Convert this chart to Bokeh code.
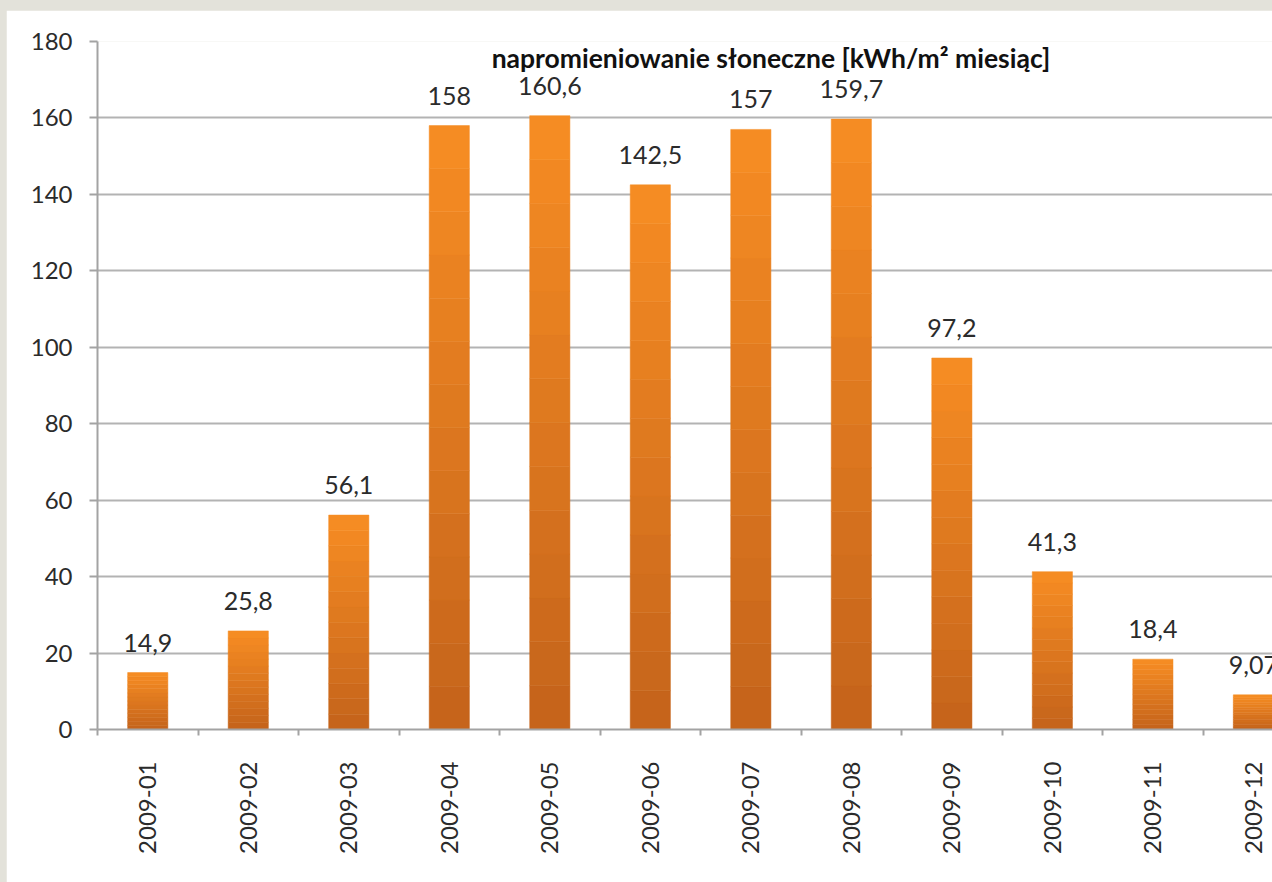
import math
from bokeh.plotting import figure
from bokeh.models import (Range1d, FixedTicker, CustomJSTickFormatter, LabelSet,
                          ColumnDataSource, Label)
from bokeh.core.properties import value
from bokeh.embed import file_html
from bokeh.resources import INLINE

# ---- data ----
categories = ["2009-01", "2009-02", "2009-03", "2009-04", "2009-05", "2009-06",
              "2009-07", "2009-08", "2009-09", "2009-10", "2009-11", "2009-12"]
values = [14.9, 25.8, 56.1, 158, 160.6, 142.5, 157, 159.7, 97.2, 41.3, 18.4, 9.07]
value_labels = ["14,9", "25,8", "56,1", "158", "160,6", "142,5",
                "157", "159,7", "97,2", "41,3", "18,4", "9,07"]
y_ticks = [0, 20, 40, 60, 80, 100, 120, 140, 160, 180]
title_text = "napromieniowanie słoneczne [kWh/m² miesiąc]"

FONT = "Lato"
GRID = "#b3b3b3"
AXIS = "#a3a3a3"
TXT = "#2b2b2b"

p = figure(width=1266, height=872, output_backend="svg", toolbar_location=None,
           x_range=Range1d(0, 11.69), y_range=Range1d(0, 180),
           min_border_left=91, min_border_right=0, min_border_top=31,
           min_border_bottom=153)
p.background_fill_color = "white"
p.border_fill_color = "white"
p.outline_line_color = None

# gradient bars, built as stacked bands of each bar's own height
N = 14
top_c = (247, 141, 35)
bot_c = (196, 99, 27)
xs, bots, tops, cols = [], [], [], []
for i, v in enumerate(values):
    for k in range(N):
        t = (k + 0.5) / N
        c = tuple(int(round(bot_c[j] + (top_c[j] - bot_c[j]) * t)) for j in range(3))
        xs.append(i + 0.5)
        bots.append(v * k / N)
        tops.append(v * (k + 1) / N)
        cols.append("#%02x%02x%02x" % c)
p.vbar(x=xs, bottom=bots, top=tops, width=0.4, fill_color=cols, line_color=cols,
       line_width=0.5)

# value labels
src = ColumnDataSource(dict(x=[i + 0.5 for i in range(len(values))], y=values,
                            t=value_labels))
p.add_layout(LabelSet(x="x", y="y", text="t", source=src, text_align="center",
                      text_baseline="middle", y_offset=30, text_font=value(FONT),
                      text_font_size=value("25px"), text_color=value(TXT)))

# title inside plot
p.add_layout(Label(x=6.7, y=175.6, text=title_text, text_align="center",
                   text_baseline="middle", text_font=FONT, text_font_style="bold",
                   text_font_size="26.5px", text_color="#111111"))

# grid
p.xgrid.grid_line_color = None
p.ygrid.grid_line_color = GRID
p.ygrid.grid_line_width = 2
p.ygrid.ticker = FixedTicker(ticks=y_ticks)

# y axis
p.yaxis.ticker = FixedTicker(ticks=y_ticks)
p.yaxis.axis_line_color = AXIS
p.yaxis.axis_line_width = 2
p.yaxis.major_tick_line_color = AXIS
p.yaxis.major_tick_line_width = 2
p.yaxis.major_tick_out = 8
p.yaxis.major_tick_in = 0
p.yaxis.minor_tick_line_color = None
p.yaxis.major_label_text_font = FONT
p.yaxis.major_label_text_font_size = "24px"
p.yaxis.major_label_text_color = TXT
p.yaxis.major_label_standoff = 17

# x axis
p.xaxis.ticker = FixedTicker(ticks=[i + 0.5 for i in range(len(categories))],
                             minor_ticks=list(range(len(categories) + 1)))
p.xaxis.formatter = CustomJSTickFormatter(args=dict(labels=categories),
                                          code="return labels[Math.floor(tick)] || '';")
p.xaxis.axis_line_color = AXIS
p.xaxis.axis_line_width = 2
p.xaxis.major_tick_line_color = None
p.xaxis.major_tick_out = 0
p.xaxis.major_tick_in = 0
p.xaxis.minor_tick_line_color = AXIS
p.xaxis.minor_tick_line_width = 2
p.xaxis.minor_tick_out = 6
p.xaxis.minor_tick_in = 0
p.xaxis.major_label_orientation = math.pi / 2
p.xaxis.major_label_text_font = FONT
p.xaxis.major_label_text_font_size = "24px"
p.xaxis.major_label_text_color = TXT
p.xaxis.major_label_standoff = 26

html = file_html(p, INLINE)
css = ("<style>html, body { background: #e3e2da !important; }"
       " body { padding: 10px 0 0 6px !important; margin: 0 !important;"
       " box-sizing: border-box; overflow: hidden; }</style>")
html = html.replace("</head>", css + "</head>", 1)
open("out.html", "w").write(html)
